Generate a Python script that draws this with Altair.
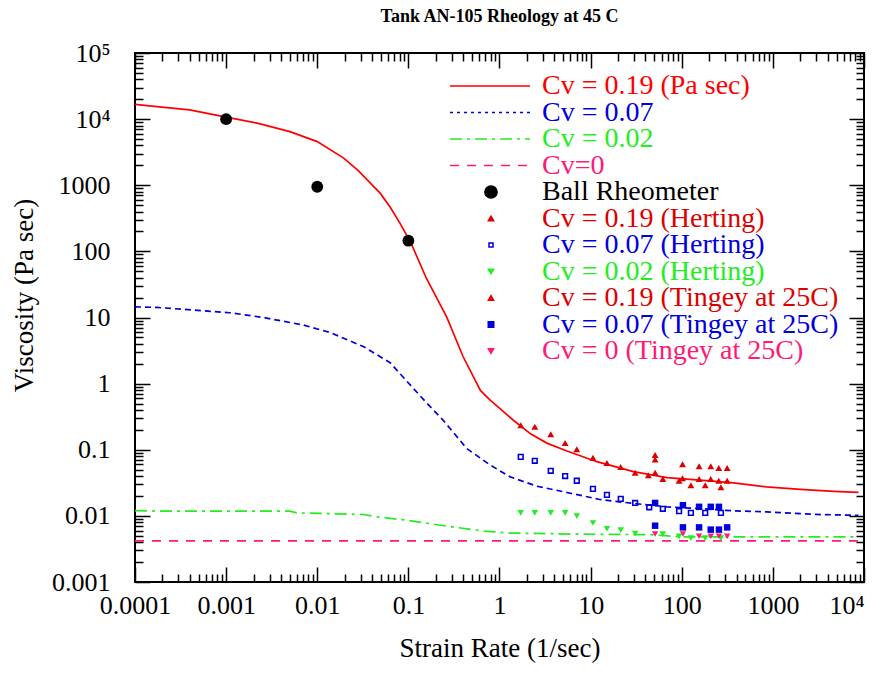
import altair as alt
import pandas as pd

W, H = 729, 529
SERIF = "Liberation Serif"

# ---------------- model curves ----------------
red_x = [0.0001, 0.000174, 0.000398, 0.001, 0.00219, 0.00501, 0.01, 0.0195, 0.0282, 0.0417,
         0.049, 0.063, 0.0813, 0.105, 0.158, 0.263, 0.398, 0.617, 0.794, 1.0, 1.41, 2.19, 3.31,
         5.5, 11.7, 29.5, 69, 158, 372, 851, 2000, 4680, 8700]
red_y = [16700, 15500, 13800, 10700, 8700, 6460, 4570, 2570, 1660, 955,
         760, 468, 263, 141, 38.9, 10.2, 2.57, 0.79, 0.56, 0.427, 0.282, 0.174, 0.126,
         0.0955, 0.066, 0.0468, 0.038, 0.0347, 0.0316, 0.0275, 0.0251, 0.0234, 0.0226]

blue_x = [0.0001, 0.000174, 0.0011, 0.00257, 0.00708, 0.0138, 0.0324, 0.0631, 0.0955, 0.158,
          0.24, 0.437, 0.794, 1.31, 2.57, 5.5, 12.6, 29.5, 69, 158, 372, 851, 3020, 8700]
blue_y = [14.5, 14.2, 11.8, 10.0, 7.67, 5.94, 3.61, 2.07, 1.10, 0.513,
          0.281, 0.1045, 0.0585, 0.0389, 0.0281, 0.0226, 0.0177, 0.0154, 0.0137, 0.0129,
          0.0119, 0.0115, 0.0105, 0.0102]

green_x = [0.0001, 0.000174, 0.005, 0.006, 0.0324, 0.0447, 0.0955, 0.263, 0.66, 1.31,
           6.5, 45, 105, 8700]
green_y = [0.0120, 0.0118, 0.0118, 0.0111, 0.0105, 0.0097, 0.0086, 0.0070, 0.0059, 0.0055,
           0.0053, 0.0052, 0.0048, 0.0048]

pink_x = [0.0001, 8700]
pink_y = [0.0042, 0.0042]

# ---------------- measured points ----------------
ball_x = [0.001, 0.01, 0.1]
ball_y = [10000, 950, 145]

herting19_x = [1.71, 2.44, 3.65, 5.25, 7.05, 10.6, 15.1, 21.4, 30.8, 43, 62, 93.5, 126, 181, 269]
herting19_y = [0.235, 0.222, 0.171, 0.127, 0.102, 0.076, 0.063, 0.055, 0.045, 0.041, 0.036,
               0.034, 0.029, 0.029, 0.027]

herting07_x = [1.71, 2.44, 3.65, 5.25, 7.05, 10.6, 15.1, 21.4, 30.8, 44, 62, 93.5, 126, 181, 269]
herting07_y = [0.078, 0.068, 0.048, 0.040, 0.034, 0.0256, 0.0208, 0.0181, 0.0157, 0.0135,
               0.0128, 0.0118, 0.0111, 0.0111, 0.0111]

herting02_x = [1.71, 2.44, 3.65, 5.25, 7.05, 10.6, 15.1, 21.4, 30.8, 62, 93.5, 126, 181, 269]
herting02_y = [0.0111, 0.0111, 0.0111, 0.0111, 0.0099, 0.0078, 0.0064, 0.0061, 0.0054,
               0.0053, 0.0049, 0.0046, 0.0046, 0.0046]

tingey19_x = [51, 51, 51, 102, 102, 155, 155, 208, 208, 255, 255, 315, 315]
tingey19_y = [0.083, 0.071, 0.045, 0.0605, 0.037, 0.0565, 0.036, 0.0565, 0.036, 0.053, 0.034,
              0.053, 0.034]

tingey07_x = [51, 51, 103, 103, 155, 155, 208, 208, 256, 256, 315]
tingey07_y = [0.0157, 0.0071, 0.0145, 0.0067, 0.0137, 0.0067, 0.0137, 0.0062, 0.0137, 0.0062,
              0.0067]

tingey0_x = [51, 103, 155, 208, 256, 315]
tingey0_y = [0.0053, 0.0053, 0.0049, 0.0049, 0.0049, 0.0049]

# ---------------- legend ----------------
legend_labels = ["Cv = 0.19 (Pa sec)", "Cv = 0.07", "Cv = 0.02", "Cv=0", "Ball Rheometer",
                 "Cv = 0.19 (Herting)", "Cv = 0.07 (Herting)", "Cv = 0.02 (Herting)",
                 "Cv = 0.19 (Tingey at 25C)", "Cv = 0.07 (Tingey at 25C)",
                 "Cv = 0 (Tingey at 25C)"]

# ---------------- axes ----------------
x_major = [1e-4, 1e-3, 1e-2, 0.1, 1, 10, 100, 1000, 1e4]
x_major_labels = ["0.0001", "0.001", "0.01", "0.1", "1", "10", "100", "1000", "10⁴"]
y_major = [1e-3, 1e-2, 0.1, 1, 10, 100, 1000, 1e4, 1e5]
y_major_labels = ["0.001", "0.01", "0.1", "1", "10", "100", "1000", "10⁴", "10⁵"]

x_ticks = sorted([k * 10.0 ** n for n in range(-4, 4) for k in range(1, 10)] + [1e4])
y_ticks = sorted([k * 10.0 ** n for n in range(-3, 5) for k in range(1, 10)] + [1e5])

RED = "#ff0000"
RED_M = "#dd0000"
BLUE = "#0000dd"
GREEN = "#22ee22"
PINK = "#ff1a75"


def label_expr(vals, labels):
    expr = "''"
    for v, lab in reversed(list(zip(vals, labels))):
        expr = f"abs(datum.value / {float(v)!r} - 1) < 0.01 ? '{lab}' : ({expr})"
    return expr


TICK_SIZE = {
    "condition": {
        "test": "abs(log(datum.value)/LN10 - round(log(datum.value)/LN10)) < 0.01",
        "value": 15,
    },
    "value": 8,
}


def xsc():
    return alt.Scale(type="log", domain=[1e-4, 1e4], nice=False)


def ysc():
    return alt.Scale(type="log", domain=[1e-3, 1e5], nice=False)


x_label_axis = alt.Axis(orient="bottom", values=x_major,
                        labelExpr=label_expr(x_major, x_major_labels),
                        labelAlign={"condition": {"test": "datum.value > 5000", "value": "right"},
                                    "value": "center"},
                        ticks=False, tickSize=0, domain=False, grid=False,
                        labelFont=SERIF, labelFontSize=26, labelColor="black",
                        labelPadding=10, labelFlush=False, labelOverlap=False,
                        title="Strain Rate (1/sec)", titleFont=SERIF, titleFontSize=27,
                        titleFontWeight="normal", titleColor="black", titlePadding=17)
y_label_axis = alt.Axis(orient="left", values=y_major,
                        labelExpr=label_expr(y_major, y_major_labels),
                        ticks=False, tickSize=0, domain=False, grid=False,
                        labelFont=SERIF, labelFontSize=26, labelColor="black",
                        labelPadding=25, labelFlush=False, labelOverlap=False,
                        title="Viscosity (Pa sec)", titleFont=SERIF, titleFontSize=27,
                        titleFontWeight="normal", titleColor="black", titlePadding=13,
                        titleY=242)


def tick_axis(orient, offset, values):
    return alt.Axis(orient=orient, offset=offset, values=values, labels=False,
                    domain=False, grid=False, ticks=True, tickSize=TICK_SIZE,
                    tickWidth=1.5, tickColor="black", title=None)


def line_layer(xs, ys, color, dash, xaxis=None, yaxis=None, width=1.7):
    df = pd.DataFrame({"x": xs, "y": ys})
    kw = dict(color=color, strokeWidth=width, clip=True)
    if dash:
        kw["strokeDash"] = dash
    return alt.Chart(df).mark_line(**kw).encode(
        x=alt.X("x:Q", scale=xsc(), axis=xaxis),
        y=alt.Y("y:Q", scale=ysc(), axis=yaxis),
    )


def point_layer(xs, ys, shape, color, size, filled=True, sw=1.0):
    df = pd.DataFrame({"x": xs, "y": ys})
    return alt.Chart(df).mark_point(shape=shape, color=color, size=size, filled=filled,
                                    opacity=1, strokeWidth=sw).encode(
        x=alt.X("x:Q", scale=xsc(), axis=None),
        y=alt.Y("y:Q", scale=ysc(), axis=None),
    )


layers = [
    line_layer(pink_x, pink_y, PINK, [9, 8], tick_axis("top", -H, x_ticks),
               tick_axis("right", -W, y_ticks)),
    line_layer(green_x, green_y, GREEN, [12, 5, 3, 5], tick_axis("bottom", -H, x_ticks),
               tick_axis("left", -W, y_ticks)),
    line_layer(blue_x, blue_y, BLUE, [6, 4]),
    line_layer(red_x, red_y, RED, None, x_label_axis, y_label_axis),
    point_layer(ball_x, ball_y, "circle", "black", 140),
    point_layer(herting19_x, herting19_y, "triangle-up", RED_M, 48),
    point_layer(herting07_x, herting07_y, "square", BLUE, 22, filled=False, sw=1.6),
    point_layer(herting02_x, herting02_y, "triangle-down", GREEN, 42),
    point_layer(tingey19_x, tingey19_y, "triangle-up", RED_M, 48),
    point_layer(tingey07_x, tingey07_y, "square", BLUE, 42),
    point_layer(tingey0_x, tingey0_y, "triangle-down", PINK, 40),
]

# legend built from tables
row_scale = alt.Scale(domain=[0, 10], range=[33, 298])
leg_text = pd.DataFrame({
    "row": list(range(11)),
    "label": legend_labels,
    "color": [RED, BLUE, GREEN, PINK, "black", RED_M, BLUE, GREEN, RED_M, BLUE, PINK],
})
leg_lines = pd.DataFrame({
    "row": [0, 1, 2, 3],
    "color": [RED, BLUE, GREEN, PINK],
    "dash": ["solid", "dot", "dashdot", "dash"],
})
leg_marks = pd.DataFrame({
    "row": [4, 5, 6, 7, 8, 9, 10],
    "shape": ["circle", "triangle-up", "square", "triangle-down", "triangle-up", "square",
              "triangle-down"],
    "fill": ["black", RED_M, "white", GREEN, RED_M, BLUE, PINK],
    "stroke": ["black", RED_M, BLUE, GREEN, RED_M, BLUE, PINK],
    "size": [150, 28, 16, 28, 28, 30, 28],
})

layers.append(
    alt.Chart(leg_lines).mark_rule(strokeWidth=1.7).encode(
        x=alt.value(315), x2=alt.value(395),
        y=alt.Y("row:Q", scale=row_scale, axis=None),
        color=alt.Color("color:N", scale=None),
        strokeDash=alt.StrokeDash("dash:N", scale=alt.Scale(
            domain=["solid", "dot", "dashdot", "dash"],
            range=[[1, 0], [3, 4], [12, 5, 3, 5], [9, 8]]), legend=None),
    )
)
layers.append(
    alt.Chart(leg_marks).mark_point(opacity=1, strokeWidth=1.5).encode(
        x=alt.value(356),
        y=alt.Y("row:Q", scale=row_scale, axis=None),
        shape=alt.Shape("shape:N", scale=None),
        fill=alt.Fill("fill:N", scale=None),
        stroke=alt.Stroke("stroke:N", scale=None),
        size=alt.Size("size:Q", scale=None),
    )
)
layers.append(
    alt.Chart(leg_text).mark_text(align="left", baseline="middle", font=SERIF,
                                  fontSize=28).encode(
        x=alt.value(407),
        y=alt.Y("row:Q", scale=row_scale, axis=None),
        text="label:N",
        color=alt.Color("color:N", scale=None),
    )
)

chart = alt.layer(*layers).resolve_scale(
    x="independent", y="independent"
).properties(
    width=W, height=H,
    title=alt.TitleParams("Tank AN-105 Rheology at 45 C", font=SERIF, fontSize=18,
                          fontWeight="bold", color="black", anchor="middle", offset=14),
    autosize=alt.AutoSizeParams(type="none"),
    padding={"left": 127, "top": 45, "right": 14, "bottom": 82},
).configure_view(stroke="black", strokeWidth=2)

chart.save("out.html", embed_options={"renderer": "svg", "actions": False})
